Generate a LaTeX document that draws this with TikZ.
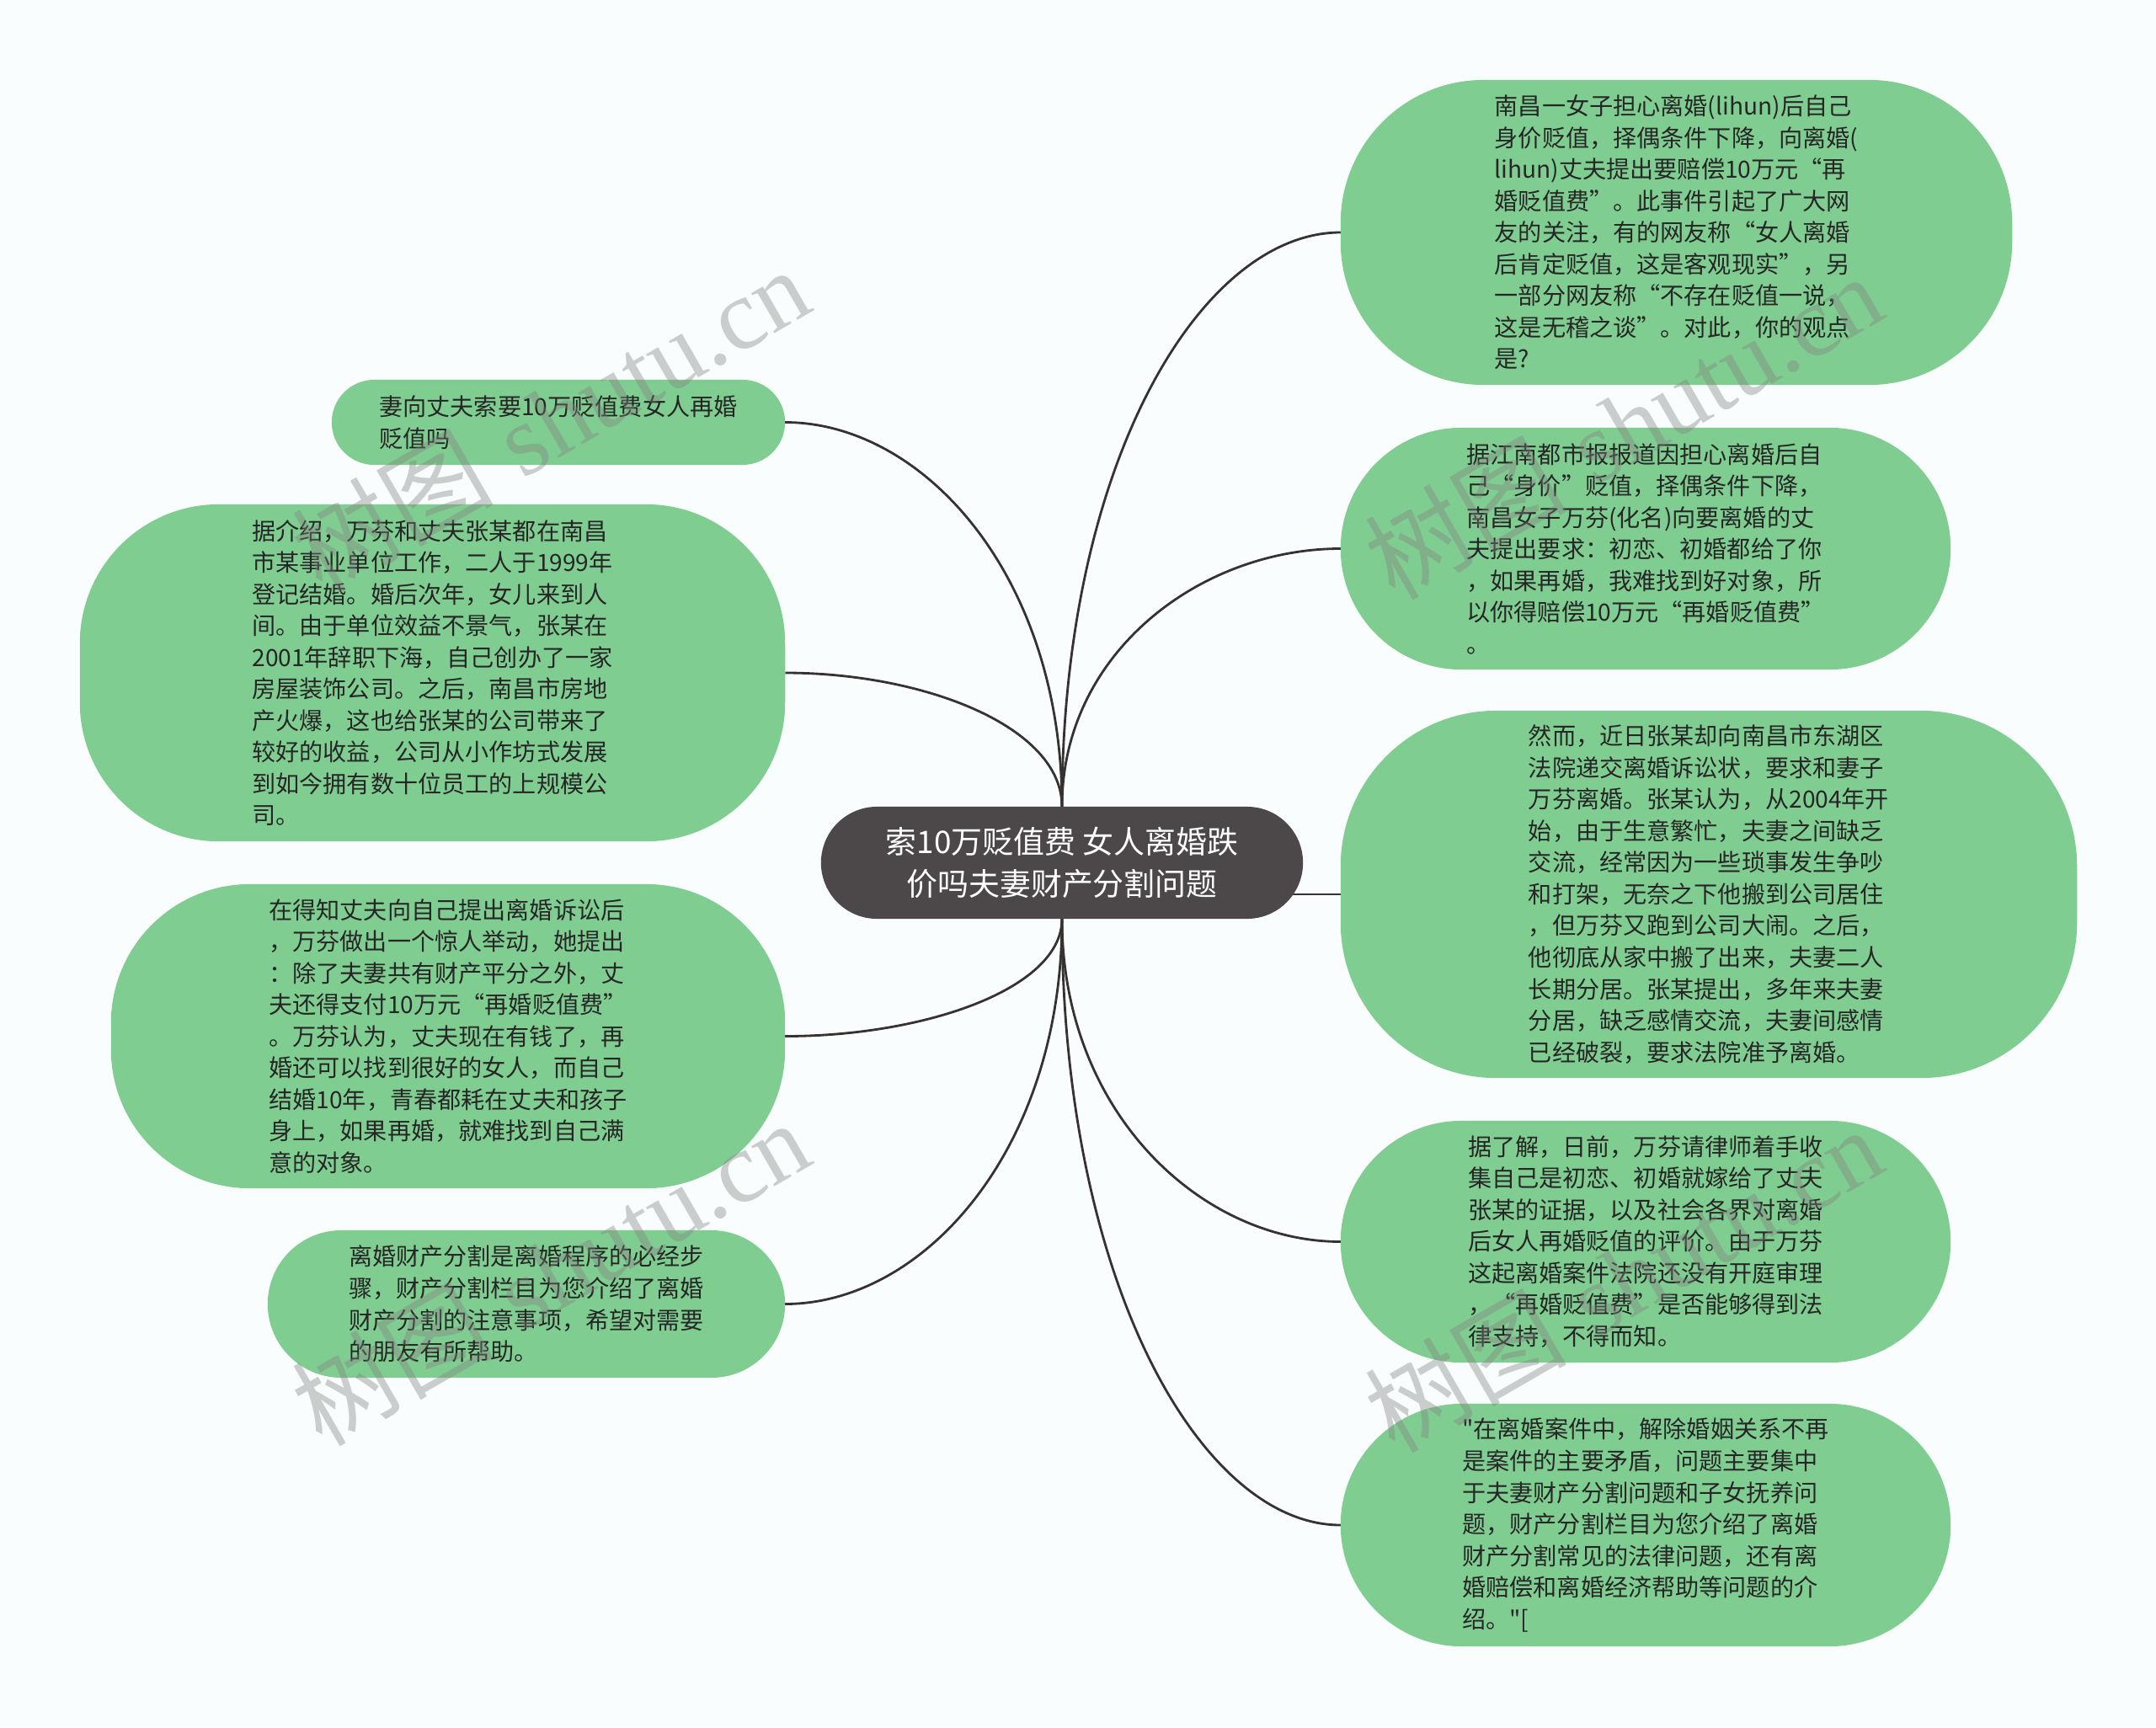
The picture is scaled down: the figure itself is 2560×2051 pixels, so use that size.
\documentclass[tikz,border=0pt]{standalone}
\usepackage{fontspec}
\newfontfamily\cjk{Noto Sans CJK SC}
\newfontfamily\wmserif{Liberation Serif}
\usetikzlibrary{calc}
\definecolor{bgc}{RGB}{250,253,253}
\definecolor{gfill}{RGB}{128,205,145}
\definecolor{cfill}{RGB}{76,71,72}
\definecolor{txtc}{RGB}{38,38,38}
\definecolor{linec}{RGB}{55,50,50}
\pgfdeclarelayer{back}
\pgfdeclarelayer{lines}
\pgfdeclarelayer{front}
\pgfsetlayers{back,lines,main,front}
\tikzset{
  gbox/.style={fill=gfill, draw=none, inner sep=0pt, outer sep=0pt, align=left, text=txtc,
    font=\cjk\fontsize{8pt}{10.67pt}\selectfont},
  cbox/.style={fill=cfill, draw=none, inner sep=0pt, outer sep=0pt, align=center, text=white,
    font=\cjk\fontsize{10.5pt}{14.4pt}\selectfont},
  conn/.style={draw=linec, line width=0.8pt},
  wmark/.style={text=gray, opacity=0.38, rotate=30, inner sep=0pt, font=\fontsize{34pt}{40pt}\selectfont}
}
\newcommand\mmlink[3]{%
  \coordinate (#3) at (#2 |- #1);
  \draw[conn] (#1) .. controls ($(#1)!0.5!(#3)$) and ($(#3)!0.4!(#2)$) .. (#2);}
\begin{document}
\begin{tikzpicture}[x=0.01cm,y=-0.01cm]
\begin{pgfonlayer}{back}
\fill[bgc] (0,0) rectangle (2560,2051);
\end{pgfonlayer}
\useasboundingbox (0,0) rectangle (2560,2051);

% central node
\node[cbox, minimum width=5.72cm, minimum height=1.33cm, rounded corners=0.665cm] (center) at (1261,1024.5)
  {索10万贬值费 女人离婚跌\\价吗夫妻财产分割问题};

% left nodes
\node[gbox, minimum width=5.38cm, minimum height=1.01cm, rounded corners=0.505cm] (l1) at (663,501.5)
  {妻向丈夫索要10万贬值费女人再婚\\贬值吗};
\node[gbox, minimum width=8.37cm, minimum height=4.00cm, rounded corners=1.65cm] (l2) at (513.5,799)
  {据介绍，万芬和丈夫张某都在南昌\\市某事业单位工作，二人于1999年\\登记结婚。婚后次年，女儿来到人\\间。由于单位效益不景气，张某在\\2001年辞职下海，自己创办了一家\\房屋装饰公司。之后，南昌市房地\\产火爆，这也给张某的公司带来了\\较好的收益，公司从小作坊式发展\\到如今拥有数十位员工的上规模公\\司。};
\node[gbox, minimum width=8.00cm, minimum height=3.61cm, rounded corners=1.65cm] (l3) at (532,1230.5)
  {在得知丈夫向自己提出离婚诉讼后\\，万芬做出一个惊人举动，她提出\\：除了夫妻共有财产平分之外，丈\\夫还得支付10万元“再婚贬值费”\\。万芬认为，丈夫现在有钱了，再\\婚还可以找到很好的女人，而自己\\结婚10年，青春都耗在丈夫和孩子\\身上，如果再婚，就难找到自己满\\意的对象。};
\node[gbox, minimum width=6.14cm, minimum height=1.75cm, rounded corners=0.875cm] (l4) at (625,1548.5)
  {离婚财产分割是离婚程序的必经步\\骤，财产分割栏目为您介绍了离婚\\财产分割的注意事项，希望对需要\\的朋友有所帮助。};

% right nodes
\node[gbox, minimum width=7.97cm, minimum height=3.62cm, rounded corners=1.70cm] (r1) at (1990.5,276)
  {南昌一女子担心离婚(lihun)后自己\\身价贬值，择偶条件下降，向离婚(\\lihun)丈夫提出要赔偿10万元“再\\婚贬值费”。此事件引起了广大网\\友的关注，有的网友称“女人离婚\\后肯定贬值，这是客观现实”，另\\一部分网友称“不存在贬值一说，\\这是无稽之谈”。对此，你的观点\\是?};
\node[gbox, minimum width=7.24cm, minimum height=2.87cm, rounded corners=1.435cm] (r2) at (1954,651.5)
  {据江南都市报报道因担心离婚后自\\己“身价”贬值，择偶条件下降，\\南昌女子万芬(化名)向要离婚的丈\\夫提出要求：初恋、初婚都给了你\\，如果再婚，我难找到好对象，所\\以你得赔偿10万元“再婚贬值费”\\。};
\node[gbox, minimum width=8.74cm, minimum height=4.36cm, rounded corners=1.85cm] (r3) at (2029,1062)
  {然而，近日张某却向南昌市东湖区\\法院递交离婚诉讼状，要求和妻子\\万芬离婚。张某认为，从2004年开\\始，由于生意繁忙，夫妻之间缺乏\\交流，经常因为一些琐事发生争吵\\和打架，无奈之下他搬到公司居住\\，但万芬又跑到公司大闹。之后，\\他彻底从家中搬了出来，夫妻二人\\长期分居。张某提出，多年来夫妻\\分居，缺乏感情交流，夫妻间感情\\已经破裂，要求法院准予离婚。};
\node[gbox, minimum width=7.24cm, minimum height=2.87cm, rounded corners=1.435cm] (r4) at (1954,1474.5)
  {据了解，日前，万芬请律师着手收\\集自己是初恋、初婚就嫁给了丈夫\\张某的证据，以及社会各界对离婚\\后女人再婚贬值的评价。由于万芬\\这起离婚案件法院还没有开庭审理\\，“再婚贬值费”是否能够得到法\\律支持，不得而知。};
\node[gbox, minimum width=7.24cm, minimum height=2.88cm, rounded corners=1.44cm] (r5) at (1954,1811)
  {"在离婚案件中，解除婚姻关系不再\\是案件的主要矛盾，问题主要集中\\于夫妻财产分割问题和子女抚养问\\题，财产分割栏目为您介绍了离婚\\财产分割常见的法律问题，还有离\\婚赔偿和离婚经济帮助等问题的介\\绍。"[};

% connectors
\begin{pgfonlayer}{lines}
\mmlink{l1.east}{center.north}{k1}
\mmlink{l2.east}{center.north}{k2}
\mmlink{r1.west}{center.north}{k3}
\mmlink{r2.west}{center.north}{k4}
\mmlink{l3.east}{center.south}{k5}
\mmlink{l4.east}{center.south}{k6}
\mmlink{r4.west}{center.south}{k7}
\mmlink{r5.west}{center.south}{k8}
\draw[conn] (center.center |- r3.west) -- (r3.west);
\end{pgfonlayer}

% watermarks
\begin{pgfonlayer}{front}
\node[wmark] (wm1) at (653,498) {{\cjk 树图} {\wmserif shutu.cn}};
\node[wmark] (wm2) at (1927,506) {{\cjk 树图} {\wmserif shutu.cn}};
\node[wmark] (wm3) at (653,1511) {{\cjk 树图} {\wmserif shutu.cn}};
\node[wmark] (wm4) at (1927,1519) {{\cjk 树图} {\wmserif shutu.cn}};
\end{pgfonlayer}
\end{tikzpicture}
\end{document}
